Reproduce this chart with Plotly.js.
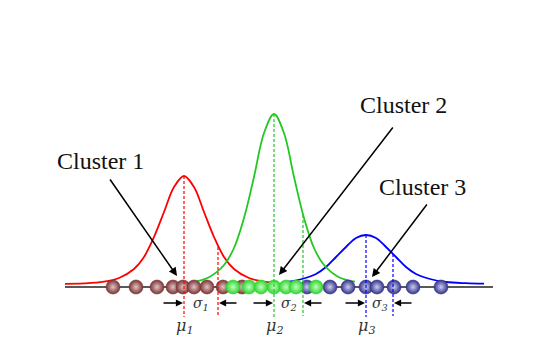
<!DOCTYPE html>
<html>
<head>
<meta charset="utf-8">
<script src="https://cdn.plot.ly/plotly-3.0.1.min.js"></script>
<style>html,body{margin:0;padding:0;background:#fff;}#chart{width:553px;height:358px;}</style>
</head>
<body>
<div id="chart"></div>
<script>
// ---- data (x: position along the line, y: height above the baseline) ----
const clusterNames = ["Cluster 1", "Cluster 2", "Cluster 3"];

const redCurveX   = [65, 84, 104, 119, 134, 144, 154, 164, 174, 184, 194, 204, 214, 224, 234, 249, 264, 272];
const redCurveY   = [3.2, 3.6, 5.3, 9, 18, 30, 50, 75, 100, 111, 100, 75, 50, 30, 18, 9, 5.3, 4.6];
const greenCurveX = [197, 209, 224, 234, 244, 254, 264, 274, 284, 294, 304, 314, 324, 339, 355];
const greenCurveY = [5.8, 9.8, 22, 39, 69, 110, 154, 173, 154, 110, 69, 39, 22, 9.8, 5.3];
const blueCurveX  = [286, 302, 316, 326, 336, 346, 356, 366, 376, 386, 396, 406, 416, 430, 446, 466, 484];
const blueCurveY  = [5, 8, 13, 20, 30, 40, 49, 52, 49, 40, 30, 20, 13, 8, 5, 3.8, 3.3];

const redPoints   = [113, 136, 157, 173, 183, 194, 207, 223, 242];
const greenPoints = [233, 249, 261, 274, 286, 296, 316];
const bluePoints  = [307, 330, 348, 366, 377, 394, 413, 441];

const means      = [184, 274, 366];
const meanTops   = [111, 173, 52];
const sigmaPos   = [218, 303, 393];
const sigmaTops  = [40, 72, 33];
const lineStart  = 65, lineEnd = 493;
const muLabels    = ["μ<sub>1</sub>", "μ<sub>2</sub>", "μ<sub>3</sub>"];
const sigmaLabels = ["σ<sub>1</sub>", "σ<sub>2</sub>", "σ<sub>3</sub>"];

// ---- styles ----
const colors = ["#ff0000", "#22c822", "#0000ff"];
const dotRim = ["#7a3434", "#2fd42f", "#33338a"];
const dotCenter = ["#e2c4c4", "#c0ffc0", "#ccccf2"];
const serif = "Liberation Serif, DejaVu Serif, serif";
const greekFont = "DejaVu Serif, serif";

const traces = [];
// baseline
traces.push({x: [lineStart, lineEnd], y: [0, 0], mode: "lines", line: {color: "#222", width: 1.4}, hoverinfo: "skip"});
// curves
[[redCurveX, redCurveY, 0], [blueCurveX, blueCurveY, 2], [greenCurveX, greenCurveY, 1]].forEach(([xs, ys, i]) => {
  traces.push({x: xs, y: ys, mode: "lines", line: {color: colors[i], width: 1.8, shape: "spline", smoothing: 1}, hoverinfo: "skip"});
});
// points
[[bluePoints, 2], [redPoints, 0], [greenPoints, 1]].forEach(([xs, i]) => {
  traces.push({x: xs, y: xs.map(() => 0), mode: "markers",
    marker: {size: 14, color: dotRim[i], line: {color: dotRim[i], width: 0.6},
             gradient: {type: "radial", color: dotCenter[i]}}, hoverinfo: "skip"});
});
// dashed lines (mean and sigma)
for (let i = 0; i < 3; i++) {
  traces.push({x: [means[i], means[i]], y: [meanTops[i], -30], mode: "lines",
    line: {color: colors[i], width: 1.2, dash: "3px,2px"}, hoverinfo: "skip"});
  traces.push({x: [sigmaPos[i], sigmaPos[i]], y: [sigmaTops[i], -29], mode: "lines",
    line: {color: colors[i], width: 1.2, dash: "3px,2px"}, hoverinfo: "skip"});
}

const ann = [];
const arrowY = -16;
for (let i = 0; i < 3; i++) {
  // arrows pointing at mean and sigma lines
  ann.push({x: means[i] - 1, y: arrowY, ax: means[i] - 22, ay: arrowY, axref: "x", ayref: "y", xref: "x", yref: "y",
    text: "", showarrow: true, arrowhead: 2, arrowsize: 1.1, arrowwidth: 1.3, arrowcolor: "#000", standoff: 0});
  ann.push({x: sigmaPos[i] + 1, y: arrowY, ax: sigmaPos[i] + 20, ay: arrowY, axref: "x", ayref: "y", xref: "x", yref: "y",
    text: "", showarrow: true, arrowhead: 2, arrowsize: 1.1, arrowwidth: 1.3, arrowcolor: "#000", standoff: 0});
  ann.push({x: (means[i] + sigmaPos[i]) / 2, y: -17, xref: "x", yref: "y", text: sigmaLabels[i], showarrow: false,
    font: {family: greekFont, size: 14, color: "#333", style: "italic"}});
  ann.push({x: means[i] + 1, y: -39, xref: "x", yref: "y", text: muLabels[i], showarrow: false,
    font: {family: greekFont, size: 16, color: "#333", style: "italic"}});
}
// cluster labels and pointers
const labelPos = [[100, 126], [403, 182], [422, 100]];
const pointerTail = [[109, 109], [394, 161], [428, 84]];
const pointerTip = [[177, 11], [279, 12], [372, 10]];
for (let i = 0; i < 3; i++) {
  ann.push({x: labelPos[i][0], y: labelPos[i][1], xref: "x", yref: "y", text: clusterNames[i], showarrow: false,
    font: {family: serif, size: 24, color: "#111"}});
  ann.push({x: pointerTip[i][0], y: pointerTip[i][1], ax: pointerTail[i][0], ay: pointerTail[i][1], axref: "x", ayref: "y",
    xref: "x", yref: "y", text: "", showarrow: true, arrowhead: 2, arrowsize: 1.1, arrowwidth: 1.5, arrowcolor: "#000", standoff: 0});
}

const layout = {
  width: 553, height: 358,
  margin: {l: 0, r: 0, t: 0, b: 0},
  paper_bgcolor: "#fff", plot_bgcolor: "#fff",
  showlegend: false,
  xaxis: {range: [0, 553], visible: false, fixedrange: true},
  yaxis: {range: [-71, 287], visible: false, fixedrange: true},
  annotations: ann
};
Plotly.newPlot("chart", traces, layout, {staticPlot: true, displayModeBar: false});
</script>
</body>
</html>
